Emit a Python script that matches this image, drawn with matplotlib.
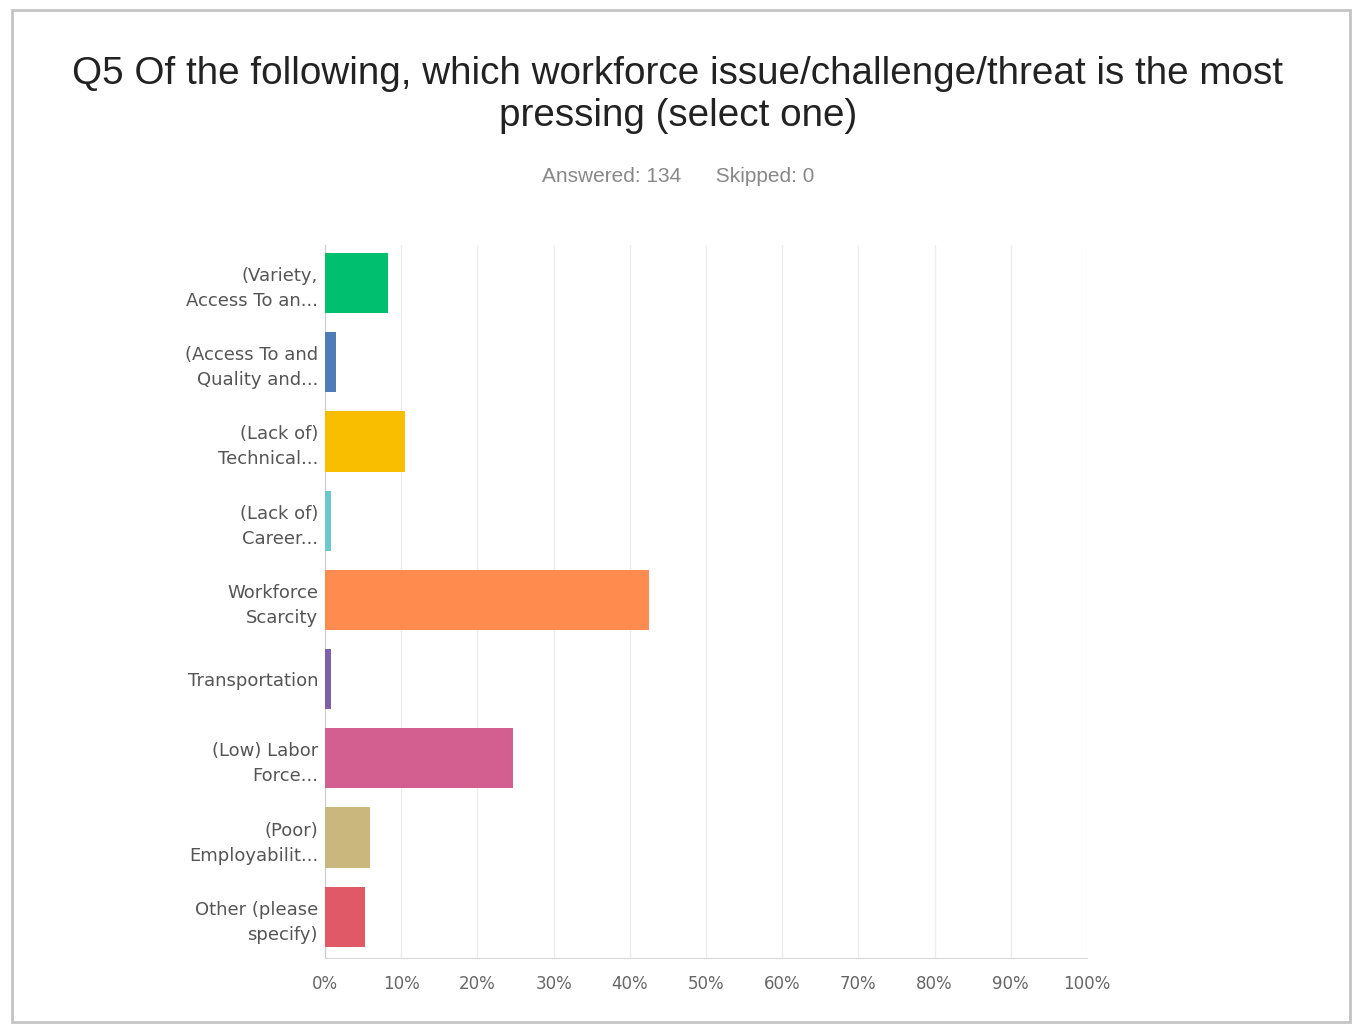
import matplotlib.pyplot as plt
import matplotlib.patches as mpatches
import numpy as np

categories = ["(Variety,\nAccess To an...", "(Access To and\nQuality and...",
              "(Lack of)\nTechnical...", "(Lack of)\nCareer...",
              "Workforce\nScarcity", "Transportation",
              "(Low) Labor\nForce...", "(Poor)\nEmployabilit...",
              "Other (please\nspecify)"]
values = [8.21, 1.49, 10.45, 0.75, 42.54, 0.75, 24.63, 5.97, 5.22]
colors = ["#00BF6F", "#507CB6", "#F9BE00", "#6BC8CD", "#FF8B4F",
          "#7F5FA9", "#D25F90", "#C9B77D", "#E05966"]
ticks = np.arange(0, 101, 10)
tick_labels = [f"{t}%" for t in ticks]

fig = plt.figure(figsize=(13.56, 10.24), dpi=100)
fig.patches.append(mpatches.Rectangle((12 / 1356, 1 - 1022 / 1024), 1338 / 1356, 1012 / 1024,
                                      transform=fig.transFigure, fill=False,
                                      edgecolor="#c4c4c4", linewidth=2))

ax = fig.add_axes([325 / 1356, 1 - 958 / 1024, 762 / 1356, 713 / 1024])
y = np.arange(len(categories))
ax.barh(y, values, height=0.76, color=colors, zorder=3)
ax.set_xlim(0, 100)
ax.set_ylim(8.52, -0.48)
ax.set_xticks(ticks)
ax.set_xticklabels(tick_labels, color="#666666", fontsize=12)
ax.set_yticks(y)
ax.set_yticklabels(categories, color="#555555", fontsize=13, linespacing=1.5)
ax.tick_params(axis="both", length=0)
ax.tick_params(axis="x", pad=12)
ax.tick_params(axis="y", pad=5)
ax.grid(axis="x", color="#ececec", linewidth=1, zorder=0)
for s in ["top", "right"]:
    ax.spines[s].set_visible(False)
ax.spines["bottom"].set_color("#d8d8d8")
ax.spines["left"].set_color("#cccccc")

fig.text(0.5, 1 - 95 / 1024,
         "Q5 Of the following, which workforce issue/challenge/threat is the most\npressing (select one)",
         ha="center", va="center", fontsize=27.8, family="Liberation Sans",
         color="#222222", linespacing=1.25)
fig.text(0.5, 1 - 177 / 1024, "Answered: 134      Skipped: 0", ha="center", va="center",
         fontsize=15, family="Liberation Sans", color="#888888")

fig.savefig("out.png", dpi=100)
